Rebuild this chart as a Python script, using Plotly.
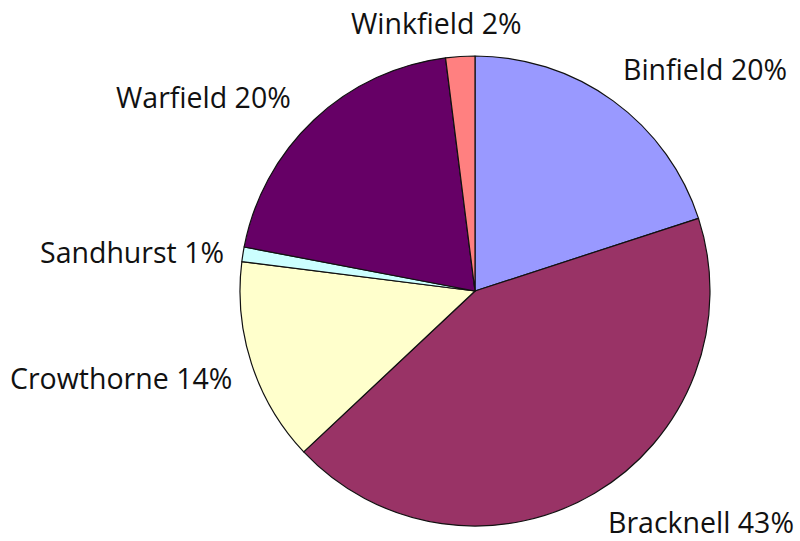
import plotly.graph_objects as go

# Share of the total by area (percent), clockwise from 12 o'clock
areas = ["Binfield", "Bracknell", "Crowthorne", "Sandhurst", "Warfield", "Winkfield"]
shares = [20, 43, 14, 1, 20, 2]
colors = ["#9999FF", "#993366", "#FFFFCC", "#CCFFFF", "#660066", "#FF8080"]

W, H = 800, 541
cx, cy, r = 475, 291, 235

fig = go.Figure(
    go.Pie(
        labels=areas,
        values=shares,
        sort=False,
        direction="clockwise",
        rotation=0,
        textinfo="none",
        hoverinfo="label+percent",
        marker=dict(colors=colors, line=dict(color="#111111", width=1.2)),
        domain=dict(
            x=[(cx - r) / W, (cx + r) / W],
            y=[1 - (cy + r) / H, 1 - (cy - r) / H],
        ),
        showlegend=False,
    )
)

# Label placement (pixel anchor, horizontal anchor) for each area
label_pos = {
    "Binfield": (621, 69, "left"),
    "Bracknell": (606, 522, "left"),
    "Crowthorne": (234, 378, "right"),
    "Sandhurst": (226, 252, "right"),
    "Warfield": (293, 97, "right"),
    "Winkfield": (436, 23, "center"),
}

annotations = []
for name, val in zip(areas, shares):
    px, py, anchor = label_pos[name]
    annotations.append(
        dict(
            x=px / W,
            y=1 - py / H,
            xref="paper",
            yref="paper",
            text=f"{name} {val}%",
            showarrow=False,
            xanchor=anchor,
            yanchor="middle",
            font=dict(family="Open Sans", size=28.5, color="#111111"),
        )
    )

fig.update_layout(
    width=W,
    height=H,
    margin=dict(l=0, r=0, t=0, b=0),
    paper_bgcolor="white",
    plot_bgcolor="white",
    annotations=annotations,
)

fig.write_html("out.html")
